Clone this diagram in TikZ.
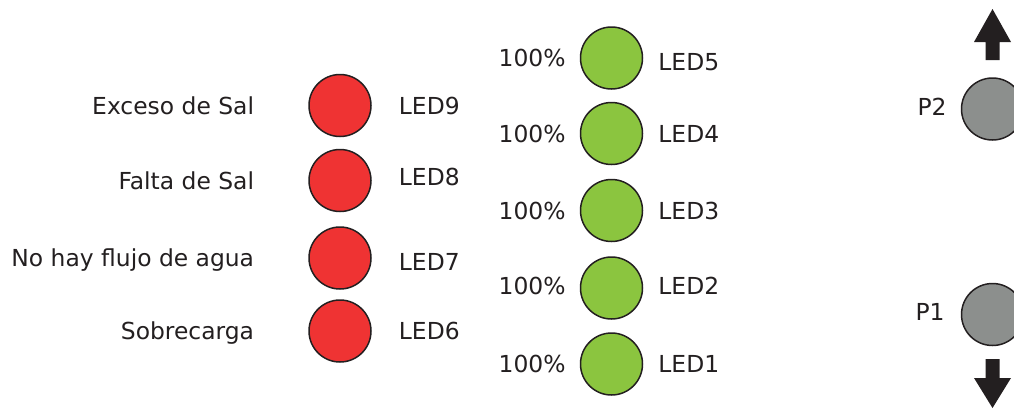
\documentclass[tikz,border=0pt]{standalone}
\usepackage{fontspec}
\setmainfont{DejaVu Sans}
\usetikzlibrary{positioning}
\definecolor{ledred}{RGB}{239,51,51}
\definecolor{ledgreen}{RGB}{139,197,63}
\definecolor{btngray}{RGB}{140,143,141}
\definecolor{ink}{RGB}{35,31,32}

\begin{document}
\begin{tikzpicture}[x=1pt,y=-1pt,
        led/.style={circle,draw=ink,line width=1.5pt,minimum size=62pt,inner sep=0pt},
        lbl/.style={inner sep=0pt,text height=17pt,text depth=0pt,text=ink,
          font=\fontsize{23.4}{28}\selectfont}]

  \useasboundingbox (0,0) rectangle (1014,408);

  % alarm leds
  \node[led,fill=ledred] (led9) at (340,105.5) {};
  \node[led,fill=ledred] (led8) at (340,180.5) {};
  \node[led,fill=ledred] (led7) at (340,258) {};
  \node[led,fill=ledred] (led6) at (340,331) {};

  \node[lbl,left=54pt of led9] (t9) {Exceso de Sal};
  \node[lbl,left=54pt of led8] (t8) {Falta de Sal};
  \node[lbl,left=54pt of led7] (t7) {No hay flujo de agua};
  \node[lbl,left=54pt of led6] (t6) {Sobrecarga};

  \node[lbl,right=27pt of led9] (n9) {LED9};
  \node[lbl,right=27pt of led8,yshift=4pt] (n8) {LED8};
  \node[lbl,right=27pt of led7,yshift=-4pt] (n7) {LED7};
  \node[lbl,right=27pt of led6] (n6) {LED6};

  % level leds
  \node[led,fill=ledgreen] (led5) at (611.5,58) {};
  \node[led,fill=ledgreen] (led4) at (611.5,133.5) {};
  \node[led,fill=ledgreen] (led3) at (611.5,210.5) {};
  \node[led,fill=ledgreen] (led2) at (611.5,288) {};
  \node[led,fill=ledgreen] (led1) at (611.5,364) {};

  \node[lbl,left=14pt of led5] (p5) {100\%};
  \node[lbl,left=14pt of led4] (p4) {100\%};
  \node[lbl,left=14pt of led3] (p3) {100\%};
  \node[lbl,left=14pt of led2,yshift=2.5pt] (p2) {100\%};
  \node[lbl,left=14pt of led1] (p1) {100\%};

  \node[lbl,right=15pt of led5,yshift=-4pt] (n5) {LED5};
  \node[lbl,right=15pt of led4] (n4) {LED4};
  \node[lbl,right=15pt of led3] (n3) {LED3};
  \node[lbl,right=15pt of led2,yshift=2.5pt] (n2) {LED2};
  \node[lbl,right=15pt of led1] (n1) {LED1};

  % push buttons
  \node[led,fill=btngray] (btn2) at (992.5,109) {};
  \node[led,fill=btngray] (btn1) at (992.5,314.5) {};

  \node[lbl,left=14pt of btn2,yshift=2.5pt] (b2) {P2};
  \node[lbl,left=16pt of btn1,yshift=3pt] (b1) {P1};

  \fill[ink] (992.5,9) -- (1011,42) -- (999.5,42) -- (999.5,60) -- (985.5,60)
    -- (985.5,42) -- (974,42) -- cycle;
  \fill[ink] (985.5,359) -- (999.5,359) -- (999.5,378) -- (1011,378)
    -- (992.5,408) -- (974,378) -- (985.5,378) -- cycle;

\end{tikzpicture}
\end{document}
